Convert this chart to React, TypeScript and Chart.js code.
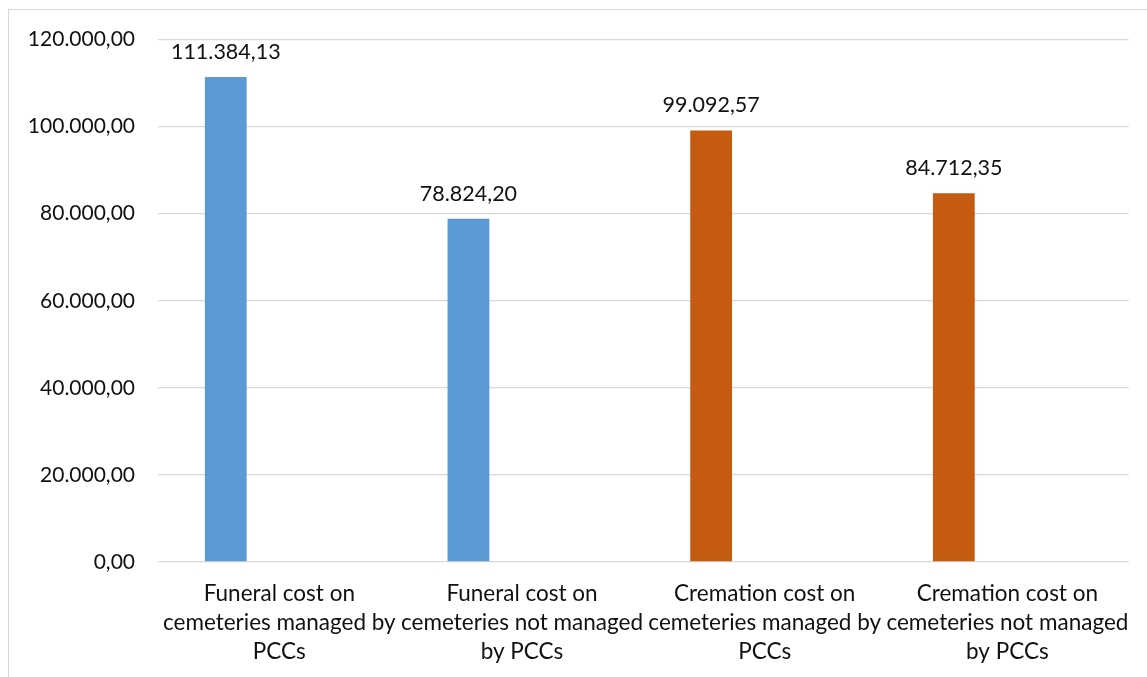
import React, { useEffect, useRef } from "react";
import { Chart, registerables } from "chart.js";

Chart.register(...registerables);

const categories: string[][] = [
  ["Funeral cost on", "cemeteries managed by", "PCCs"],
  ["Funeral cost on", "cemeteries not managed", "by PCCs"],
  ["Cremation cost on", "cemeteries managed by", "PCCs"],
  ["Cremation cost on", "cemeteries not managed", "by PCCs"],
];
const costValues: number[] = [111384.13, 78824.2, 99092.57, 84712.35];
const emptyValues: (number | null)[] = [null, null, null, null];
const barColors: string[] = ["#5B9BD5", "#5B9BD5", "#C55A11", "#C55A11"];
const yTicks: number[] = [0, 20000, 40000, 60000, 80000, 100000, 120000];

const FONT = "Lato, 'Noto Sans', sans-serif";

function fmt(v: number): string {
  const fixed = v.toFixed(2);
  const [intPart, dec] = fixed.split(".");
  const withDots = intPart.replace(/\B(?=(\d{3})+(?!\d))/g, ".");
  return withDots + "," + dec;
}

const valueLabels = {
  id: "valueLabels",
  afterDatasetsDraw(chart: any) {
    const ctx = chart.ctx;
    const meta = chart.getDatasetMeta(0);
    ctx.save();
    ctx.font = `21.5px ${FONT}`;
    ctx.fillStyle = "#111111";
    ctx.textAlign = "center";
    ctx.textBaseline = "middle";
    meta.data.forEach((bar: any, i: number) => {
      ctx.fillText(fmt(costValues[i]), bar.x, bar.y - 25);
    });
    ctx.restore();
  },
};

export default function App() {
  const ref = useRef<HTMLCanvasElement | null>(null);

  useEffect(() => {
    if (!ref.current) return;
    const chart = new Chart(ref.current, {
      type: "bar",
      data: {
        labels: categories,
        datasets: [
          {
            label: "Cost",
            data: costValues,
            backgroundColor: barColors,
            categoryPercentage: 0.883,
            barPercentage: 0.39,
          },
          {
            label: "Empty",
            data: emptyValues,
            backgroundColor: "transparent",
            categoryPercentage: 0.883,
            barPercentage: 0.39,
          },
        ],
      },
      options: {
        animation: false,
        responsive: true,
        maintainAspectRatio: false,
        layout: { padding: { top: 39.5, right: 13, left: 0, bottom: 0 } },
        plugins: {
          legend: { display: false },
          tooltip: { enabled: false },
        },
        scales: {
          x: {
            grid: { display: false, drawTicks: false },
            border: { display: false },
            ticks: {
              color: "#111111",
              font: { family: FONT, size: 22.5, lineHeight: 1.29 },
              padding: 17,
              maxRotation: 0,
              autoSkip: false,
            },
            afterFit(scale: any) {
              scale.height = 115;
            },
          },
          y: {
            min: 0,
            max: 120000,
            afterBuildTicks(scale: any) {
              scale.ticks = yTicks.map((v) => ({ value: v }));
            },
            grid: { color: "#D9D9D9", lineWidth: 1.3, drawTicks: false },
            border: { display: false },
            ticks: {
              color: "#111111",
              font: { family: FONT, size: 21 },
              padding: 23,
              callback: (v: any) => fmt(Number(v)),
            },
            afterFit(scale: any) {
              scale.width = 158;
            },
          },
        },
      },
      plugins: [valueLabels],
    });
    return () => chart.destroy();
  }, []);

  return (
    <div
      style={{
        position: "fixed",
        left: 0,
        top: 0,
        width: 1147,
        height: 677,
        overflow: "hidden",
        background: "#ffffff",
      }}
    >
      <div
        style={{
          position: "absolute",
          left: 8,
          top: 9,
          width: 1300,
          height: 900,
          border: "1.5px solid #D9D9D9",
          boxSizing: "border-box",
        }}
      />
      <div style={{ position: "absolute", left: 0, top: 0, width: 1147, height: 677 }}>
        <canvas ref={ref} />
      </div>
    </div>
  );
}
